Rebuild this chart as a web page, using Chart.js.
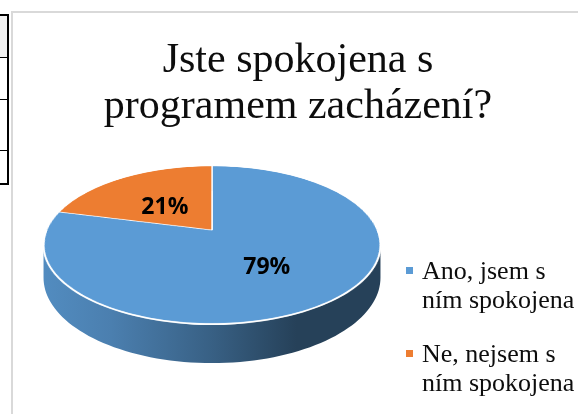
<!DOCTYPE html>
<html>
<head>
<meta charset="utf-8">
<script src="https://cdn.jsdelivr.net/npm/chart.js@4.4.0/dist/chart.umd.min.js"></script>
<style>
  body { margin: 0; background: #fff; width: 578px; height: 414px; overflow: hidden; position: relative; }
  #tbl { position: absolute; left: -2px; top: 14px; width: 7px; height: 167px; border: 2px solid #000; }
  #tbl div { border-bottom: 1px solid #000; box-sizing: border-box; }
  #frame { position: absolute; left: 11px; top: 11px; width: 620px; height: 460px; border-left: 2px solid #d9d9d9; border-top: 2px solid #d9d9d9; }
  #pie { position: absolute; left: 0; top: 0; }
  #title { position: absolute; left: 0; top: 35px; width: 596px; text-align: center;
           font-family: "Liberation Serif", serif; font-size: 42px; line-height: 46px; color: #0d0d0d; }
  #legend { position: absolute; left: 406px; top: 0; font-family: "Liberation Serif", serif;
            font-size: 26px; line-height: 29px; color: #0d0d0d; }
  .item { position: absolute; left: 0; white-space: nowrap; }
  .box { position: absolute; left: 0; width: 7px; height: 7px; }
  .txt { position: absolute; left: 16px; top: 0; }
</style>
</head>
<body>
<div id="tbl">
  <div style="height:42px;background:#f2f2f2"></div>
  <div style="height:42px"></div>
  <div style="height:51px"></div>
  <div style="height:32px;border:none"></div>
</div>
<div id="frame"></div>
<canvas id="pie" width="578" height="414"></canvas>
<div id="title"></div>
<div id="legend"></div>
<script>
const titleLines = ['Jste spokojena s', 'programem zacházení?'];
const labels = [['Ano, jsem s', 'ním spokojena'], ['Ne, nejsem s', 'ním spokojena']];
const values = [79, 21];
const colors = ['#5b9bd5', '#ed7d31'];

// perspective view of the pie: centre, half-axes, perspective strength, wall height
const view = { cx: 212, cy: 230, rx: 165.4, ry: 76.2, persp: 0.19, depth: 39 };

document.getElementById('title').innerHTML = titleLines.join('<br>');

// legend built from the same arrays
const legend = document.getElementById('legend');
const legendTops = [256, 339];
labels.forEach((lines, i) => {
  const item = document.createElement('div');
  item.className = 'item';
  item.style.top = legendTops[i] + 'px';
  item.innerHTML = '<div class="box" style="top:11px;background:' + colors[i] + '"></div>' +
                   '<div class="txt">' + lines.join('<br>') + '</div>';
  legend.appendChild(item);
});

function shade(hex, f) {
  const n = parseInt(hex.slice(1), 16);
  const r = Math.round(((n >> 16) & 255) * f);
  const g = Math.round(((n >> 8) & 255) * f);
  const b = Math.round((n & 255) * f);
  return 'rgb(' + r + ',' + g + ',' + b + ')';
}

// canvas angle of the flat pie -> point on the tilted disc (k = fraction of radius)
function project(angle, k) {
  const u = Math.cos(angle) * k;        // across
  const w = Math.sin(angle) * k;        // towards viewer
  const s = 1 / (1 - view.persp * w);
  return { x: view.cx + view.rx * u * s, y: view.cy + view.ry * w * s, s: s };
}

const pie3d = {
  id: 'pie3d',
  afterDatasetsDraw(chart) {
    const ctx = chart.ctx;
    const arcs = chart.getDatasetMeta(0).data;
    const R = arcs[0].outerRadius;
    const x0 = arcs[0].x, y0 = arcs[0].y;

    // grab the flat pie the library drew, then wipe it
    const pad = 2;
    const W = Math.ceil(2 * R + 2 * pad);
    const off = document.createElement('canvas');
    off.width = W; off.height = W;
    off.getContext('2d').drawImage(chart.canvas, x0 - R - pad, y0 - R - pad, W, W, 0, 0, W, W);
    ctx.clearRect(x0 - R - pad, y0 - R - pad, W, W);

    // wall, visible between the two widest points of the outline
    const a1 = Math.asin(view.persp), a2 = Math.PI - a1;
    const wallDepth = w => view.depth * (1 - view.persp) / (1 - view.persp * w);
    arcs.forEach((a, i) => {
      [0, 2 * Math.PI].forEach(shift => {
        const s = Math.max(a.startAngle, shift + a1);
        const e = Math.min(a.endAngle, shift + a2);
        if (e <= s) return;
        const grad = ctx.createLinearGradient(view.cx - view.rx * 1.02, 0, view.cx + view.rx * 1.02, 0);
        grad.addColorStop(0, shade(colors[i], 0.9));
        grad.addColorStop(0.2, shade(colors[i], 0.82));
        grad.addColorStop(0.5, shade(colors[i], 0.62));
        grad.addColorStop(0.75, shade(colors[i], 0.42));
        grad.addColorStop(1, shade(colors[i], 0.42));
        const n = 80;
        ctx.beginPath();
        for (let j = 0; j <= n; j++) {
          const p = project(s + (e - s) * j / n, 1);
          j ? ctx.lineTo(p.x, p.y) : ctx.moveTo(p.x, p.y);
        }
        for (let j = n; j >= 0; j--) {
          const ang = s + (e - s) * j / n;
          const p = project(ang, 1);
          ctx.lineTo(p.x, p.y + wallDepth(Math.sin(ang)));
        }
        ctx.closePath();
        ctx.fillStyle = grad;
        ctx.fill();
      });
    });

    // top face: resample the flat pie row by row in perspective
    const yTop = Math.floor(view.cy - view.ry / (1 + view.persp));
    const yBot = Math.ceil(view.cy + view.ry / (1 - view.persp));
    for (let y = yTop; y <= yBot; y++) {
      const Y = y + 0.5 - view.cy;
      const w = Y / (view.ry + view.persp * Y);
      if (Math.abs(w) > 1.01) continue;
      const s = 1 / (1 - view.persp * w);
      const srcY = pad + R + w * R - 0.5;
      const scale = view.rx / R * s;
      ctx.drawImage(off, 0, srcY, W, 1, view.cx - (R + pad) * scale, y, W * scale, 1);
    }

    // white rim along the front edge
    ctx.beginPath();
    for (let j = 0; j <= 100; j++) {
      const p = project(Math.PI * j / 100, 1);
      j ? ctx.lineTo(p.x, p.y) : ctx.moveTo(p.x, p.y);
    }
    ctx.strokeStyle = '#fff';
    ctx.lineWidth = 1.5;
    ctx.stroke();

    // percentage labels
    const total = values.reduce((p, v) => p + v, 0);
    ctx.font = 'bold 23px "Open Sans", sans-serif';
    ctx.fillStyle = '#000';
    ctx.textAlign = 'center';
    ctx.textBaseline = 'middle';
    arcs.forEach((a, i) => {
      const p = project((a.startAngle + a.endAngle) / 2, 0.5);
      ctx.fillText(Math.round(values[i] / total * 100) + '%', p.x, p.y + 5);
    });
  }
};

new Chart(document.getElementById('pie'), {
  type: 'pie',
  data: {
    labels: labels,
    datasets: [{
      data: values,
      backgroundColor: colors,
      borderColor: '#fff',
      borderWidth: 1.5,
      radius: 168
    }]
  },
  options: {
    responsive: false,
    animation: false,
    layout: { padding: { left: 43, right: 199, top: 77, bottom: 0 } },
    plugins: {
      legend: { display: false },
      tooltip: { enabled: false }
    }
  },
  plugins: [pie3d]
});
</script>
</body>
</html>
